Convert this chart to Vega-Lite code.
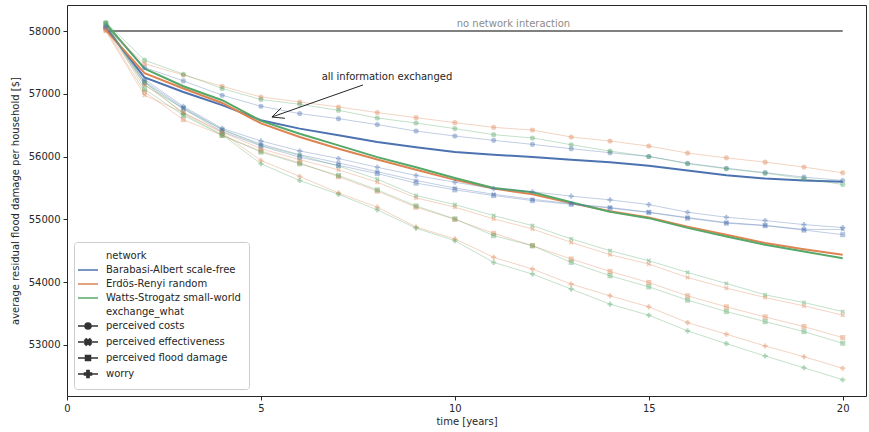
{
  "$schema": "https://vega.github.io/schema/vega-lite/v6.json",
  "width": 799,
  "height": 391,
  "autosize": {"type": "none"},
  "padding": {"left": 67, "top": 5, "right": 3, "bottom": 36},
  "background": "white",
  "config": {
    "font": "DejaVu Sans",
    "view": {"stroke": "#262626", "strokeWidth": 1},
    "axis": {"domain": false, "grid": false, "tickColor": "#262626", "tickSize": 4, "labelFontSize": 10, "labelColor": "#262626", "titleFontSize": 10, "titleFontWeight": "normal", "titleColor": "#262626", "labelFont": "DejaVu Sans", "titleFont": "DejaVu Sans", "labelPadding": 3},
    "legend": {"labelFont": "DejaVu Sans", "labelFontSize": 10, "labelColor": "#262626"}
  },
  "datasets": {
    "series": [
      {"t":1,"BA_all":58060,"ER_all":58020,"WS_all":58120,"BA_costs":58080,"ER_costs":58050,"WS_costs":58140,"BA_eff":58060,"ER_eff":58000,"WS_eff":58120,"BA_flood":58060,"ER_flood":58020,"WS_flood":58120,"BA_worry":58060,"ER_worry":58020,"WS_worry":58120},
      {"t":2,"BA_all":57260,"ER_all":57330,"WS_all":57400,"BA_costs":57420,"ER_costs":57480,"WS_costs":57537,"BA_eff":57200,"ER_eff":56978,"WS_eff":57137,"BA_flood":57180,"ER_flood":57030,"WS_flood":57073,"BA_worry":57230,"ER_worry":57150,"WS_worry":57190},
      {"t":3,"BA_all":57030,"ER_all":57085,"WS_all":57121,"BA_costs":57206,"ER_costs":57300,"WS_costs":57313,"BA_eff":56780,"ER_eff":56700,"WS_eff":56765,"BA_flood":56760,"ER_flood":56589,"WS_flood":56658,"BA_worry":56800,"ER_worry":56700,"WS_worry":56680},
      {"t":4,"BA_all":56820,"ER_all":56855,"WS_all":56898,"BA_costs":56978,"ER_costs":57121,"WS_costs":57085,"BA_eff":56430,"ER_eff":56392,"WS_eff":56430,"BA_flood":56400,"ER_flood":56339,"WS_flood":56339,"BA_worry":56450,"ER_worry":56380,"WS_worry":56350},
      {"t":5,"BA_all":56580,"ER_all":56530,"WS_all":56570,"BA_costs":56802,"ER_costs":56950,"WS_costs":56909,"BA_eff":56200,"ER_eff":56126,"WS_eff":56179,"BA_flood":56170,"ER_flood":56090,"WS_flood":56072,"BA_worry":56250,"ER_worry":55939,"WS_worry":55886},
      {"t":6,"BA_all":56446,"ER_all":56312,"WS_all":56365,"BA_costs":56685,"ER_costs":56871,"WS_costs":56834,"BA_eff":56030,"ER_eff":55950,"WS_eff":56019,"BA_flood":55990,"ER_flood":55900,"WS_flood":55886,"BA_worry":56090,"ER_worry":55684,"WS_worry":55620},
      {"t":7,"BA_all":56339,"ER_all":56126,"WS_all":56179,"BA_costs":56605,"ER_costs":56791,"WS_costs":56738,"BA_eff":55900,"ER_eff":55790,"WS_eff":55850,"BA_flood":55860,"ER_flood":55680,"WS_flood":55700,"BA_worry":55970,"ER_worry":55420,"WS_worry":55400},
      {"t":8,"BA_all":56232,"ER_all":55955,"WS_all":55992,"BA_costs":56510,"ER_costs":56701,"WS_costs":56615,"BA_eff":55760,"ER_eff":55593,"WS_eff":55640,"BA_flood":55730,"ER_flood":55450,"WS_flood":55470,"BA_worry":55830,"ER_worry":55195,"WS_worry":55152},
      {"t":9,"BA_all":56150,"ER_all":55790,"WS_all":55830,"BA_costs":56407,"ER_costs":56621,"WS_costs":56535,"BA_eff":55620,"ER_eff":55343,"WS_eff":55380,"BA_flood":55578,"ER_flood":55195,"WS_flood":55215,"BA_worry":55700,"ER_worry":54880,"WS_worry":54860},
      {"t":10,"BA_all":56072,"ER_all":55630,"WS_all":55660,"BA_costs":56328,"ER_costs":56541,"WS_costs":56446,"BA_eff":55500,"ER_eff":55195,"WS_eff":55236,"BA_flood":55471,"ER_flood":55000,"WS_flood":55008,"BA_worry":55593,"ER_worry":54689,"WS_worry":54661},
      {"t":11,"BA_all":56030,"ER_all":55490,"WS_all":55500,"BA_costs":56259,"ER_costs":56466,"WS_costs":56350,"BA_eff":55400,"ER_eff":55008,"WS_eff":55061,"BA_flood":55380,"ER_flood":54778,"WS_flood":54741,"BA_worry":55490,"ER_worry":54396,"WS_worry":54315},
      {"t":12,"BA_all":55992,"ER_all":55400,"WS_all":55433,"BA_costs":56195,"ER_costs":56423,"WS_costs":56297,"BA_eff":55320,"ER_eff":54848,"WS_eff":54901,"BA_flood":55300,"ER_flood":54581,"WS_flood":54581,"BA_worry":55440,"ER_worry":54209,"WS_worry":54129},
      {"t":13,"BA_all":55950,"ER_all":55260,"WS_all":55273,"BA_costs":56126,"ER_costs":56312,"WS_costs":56190,"BA_eff":55250,"ER_eff":54634,"WS_eff":54689,"BA_flood":55240,"ER_flood":54369,"WS_flood":54315,"BA_worry":55370,"ER_worry":53969,"WS_worry":53890},
      {"t":14,"BA_all":55912,"ER_all":55130,"WS_all":55120,"BA_costs":56062,"ER_costs":56248,"WS_costs":56088,"BA_eff":55190,"ER_eff":54438,"WS_eff":54502,"BA_flood":55181,"ER_flood":54171,"WS_flood":54102,"BA_worry":55311,"ER_worry":53783,"WS_worry":53650},
      {"t":15,"BA_all":55855,"ER_all":55030,"WS_all":55020,"BA_costs":56003,"ER_costs":56168,"WS_costs":56003,"BA_eff":55115,"ER_eff":54289,"WS_eff":54342,"BA_flood":55110,"ER_flood":53995,"WS_flood":53926,"BA_worry":55236,"ER_worry":53607,"WS_worry":53474},
      {"t":16,"BA_all":55780,"ER_all":54885,"WS_all":54865,"BA_costs":55895,"ER_costs":56056,"WS_costs":55886,"BA_eff":55030,"ER_eff":54075,"WS_eff":54155,"BA_flood":55020,"ER_flood":53783,"WS_flood":53714,"BA_worry":55114,"ER_worry":53356,"WS_worry":53224},
      {"t":17,"BA_all":55705,"ER_all":54755,"WS_all":54728,"BA_costs":55815,"ER_costs":55980,"WS_costs":55806,"BA_eff":54950,"ER_eff":53905,"WS_eff":53979,"BA_flood":54940,"ER_flood":53607,"WS_flood":53532,"BA_worry":55034,"ER_worry":53171,"WS_worry":53021},
      {"t":18,"BA_all":55650,"ER_all":54625,"WS_all":54595,"BA_costs":55745,"ER_costs":55912,"WS_costs":55737,"BA_eff":54905,"ER_eff":53756,"WS_eff":53799,"BA_flood":54900,"ER_flood":53447,"WS_flood":53372,"BA_worry":54981,"ER_worry":52984,"WS_worry":52824},
      {"t":19,"BA_all":55620,"ER_all":54525,"WS_all":54490,"BA_costs":55673,"ER_costs":55833,"WS_costs":55650,"BA_eff":54840,"ER_eff":53623,"WS_eff":53676,"BA_flood":54830,"ER_flood":53292,"WS_flood":53212,"BA_worry":54917,"ER_worry":52813,"WS_worry":52637},
      {"t":20,"BA_all":55598,"ER_all":54438,"WS_all":54380,"BA_costs":55620,"ER_costs":55743,"WS_costs":55556,"BA_eff":54840,"ER_eff":53474,"WS_eff":53532,"BA_flood":54757,"ER_flood":53117,"WS_flood":53027,"BA_worry":54870,"ER_worry":52628,"WS_worry":52446}
    ],
    "baseline": [{"t":1,"v":58000},{"t":20,"v":58000}],
    "arrow": [
      {"t":7.63,"v":57141,"t2":5.284,"v2":56631},
      {"t":5.284,"v":56631,"t2":5.619,"v2":56610},
      {"t":5.284,"v":56631,"t2":5.523,"v2":56776}
    ]
  },
  "layer": [
    {
      "data": {"name": "baseline"},
      "mark": {"type": "line", "color": "#808080", "strokeWidth": 2},
      "encoding": {
        "x": {"field": "t", "type": "quantitative", "scale": {"domain": [0, 20.6], "nice": false, "zero": false},
              "axis": {"values": [0,5,10,15,20], "title": "time [years]", "titlePadding": 3, "labelFlush": false}},
        "y": {"field": "v", "type": "quantitative", "scale": {"domain": [52187, 58415], "nice": false, "zero": false},
              "axis": {"values": [53000,54000,55000,56000,57000,58000], "format": "d", "title": "average residual flood damage per household [$]", "titlePadding": 8, "labelFlush": false}}
      }
    },
    {
      "data": {"values": [{"t": 11.51, "v": 58112, "label": "no network interaction"}]},
      "mark": {"type": "text", "color": "#8c8c8c", "fontSize": 10, "align": "center", "baseline": "middle"},
      "encoding": {
        "x": {"field": "t", "type": "quantitative"},
        "y": {"field": "v", "type": "quantitative"},
        "text": {"field": "label"}
      }
    },
    {
      "data": {"name": "series"},
      "transform": [{"fold": ["BA_all","ER_all","WS_all"], "as": ["series","v"]}],
      "mark": {"type": "line", "strokeWidth": 2},
      "encoding": {
        "x": {"field": "t", "type": "quantitative"},
        "y": {"field": "v", "type": "quantitative"},
        "color": {"field": "series", "type": "nominal", "scale": {"domain": ["BA_all","ER_all","WS_all"], "range": ["#4c72b0","#dd8452","#55a868"]}, "legend": null}
      }
    },
    {
      "data": {"name": "series"},
      "transform": [{"fold": ["BA_costs","ER_costs","WS_costs","BA_eff","ER_eff","WS_eff","BA_flood","ER_flood","WS_flood","BA_worry","ER_worry","WS_worry"], "as": ["series","v"]}],
      "mark": {"type": "line", "strokeWidth": 1, "opacity": 0.35},
      "encoding": {
        "x": {"field": "t", "type": "quantitative"},
        "y": {"field": "v", "type": "quantitative"},
        "color": {"field": "series", "type": "nominal", "scale": {"domain": ["BA_costs","ER_costs","WS_costs","BA_eff","ER_eff","WS_eff","BA_flood","ER_flood","WS_flood","BA_worry","ER_worry","WS_worry"], "range": ["#4c72b0","#dd8452","#55a868","#4c72b0","#dd8452","#55a868","#4c72b0","#dd8452","#55a868","#4c72b0","#dd8452","#55a868"]}, "legend": null}
      }
    },
    {
      "data": {"name": "series"},
      "transform": [{"fold": ["BA_costs","ER_costs","WS_costs","BA_eff","ER_eff","WS_eff","BA_flood","ER_flood","WS_flood","BA_worry","ER_worry","WS_worry"], "as": ["series","v"]}],
      "mark": {"type": "point", "filled": true, "size": 26, "opacity": 0.42},
      "encoding": {
        "x": {"field": "t", "type": "quantitative"},
        "y": {"field": "v", "type": "quantitative"},
        "color": {"field": "series", "type": "nominal", "scale": {"domain": ["BA_costs","ER_costs","WS_costs","BA_eff","ER_eff","WS_eff","BA_flood","ER_flood","WS_flood","BA_worry","ER_worry","WS_worry"], "range": ["#4c72b0","#dd8452","#55a868","#4c72b0","#dd8452","#55a868","#4c72b0","#dd8452","#55a868","#4c72b0","#dd8452","#55a868"]}, "legend": null},
        "shape": {"field": "series", "type": "nominal", "scale": {"domain": ["BA_costs","ER_costs","WS_costs","BA_eff","ER_eff","WS_eff","BA_flood","ER_flood","WS_flood","BA_worry","ER_worry","WS_worry"], "range": ["circle","circle","circle",
          "M-0.495,-0.919L0,-0.424L0.495,-0.919L0.919,-0.495L0.424,0L0.919,0.495L0.495,0.919L0,0.424L-0.495,0.919L-0.919,0.495L-0.424,0L-0.919,-0.495Z",
          "M-0.495,-0.919L0,-0.424L0.495,-0.919L0.919,-0.495L0.424,0L0.919,0.495L0.495,0.919L0,0.424L-0.495,0.919L-0.919,0.495L-0.424,0L-0.919,-0.495Z",
          "M-0.495,-0.919L0,-0.424L0.495,-0.919L0.919,-0.495L0.424,0L0.919,0.495L0.495,0.919L0,0.424L-0.495,0.919L-0.919,0.495L-0.424,0L-0.919,-0.495Z",
          "square","square","square","cross","cross","cross"]}, "legend": null}
      }
    },
    {
      "data": {"name": "arrow"},
      "mark": {"type": "rule", "color": "#262626", "strokeWidth": 1},
      "encoding": {
        "x": {"field": "t", "type": "quantitative"},
        "y": {"field": "v", "type": "quantitative"},
        "x2": {"field": "t2"},
        "y2": {"field": "v2"}
      }
    },
    {
      "data": {"values": [{"t": 8.25, "v": 57262, "label": "all information exchanged"}]},
      "mark": {"type": "text", "color": "#262626", "fontSize": 10, "align": "center", "baseline": "middle"},
      "encoding": {
        "x": {"field": "t", "type": "quantitative"},
        "y": {"field": "v", "type": "quantitative"},
        "text": {"field": "label"}
      }
    },
    {
      "data": {"values": []},
      "mark": {"type": "point", "filled": true, "opacity": 1},
      "encoding": {
        "fill": {"field": "entry", "type": "nominal",
          "scale": {"domain": ["network","Barabasi-Albert scale-free","Erdös-Renyi random","Watts-Strogatz small-world","exchange_what","perceived costs","perceived effectiveness","perceived flood damage","worry"],
                    "range": ["transparent","#4c72b0","#dd8452","#55a868","transparent","#333333","#333333","#333333","#333333"]},
          "legend": {"title": null, "orient": "bottom-left", "offset": 7, "strokeColor": "#cccccc", "fillColor": "rgba(255,255,255,0.85)", "cornerRadius": 3, "padding": 8, "rowPadding": 3, "symbolSize": 100, "symbolStrokeWidth": 1.5, "symbolOpacity": 1, "labelOffset": 12, "labelLimit": 300}},
        "stroke": {"field": "entry", "type": "nominal",
          "scale": {"domain": ["network","Barabasi-Albert scale-free","Erdös-Renyi random","Watts-Strogatz small-world","exchange_what","perceived costs","perceived effectiveness","perceived flood damage","worry"],
                    "range": ["transparent","#4c72b0","#dd8452","#55a868","transparent","#333333","#333333","#333333","#333333"]},
          "legend": {"title": null, "orient": "bottom-left"}},
        "shape": {"field": "entry", "type": "nominal",
          "scale": {"domain": ["network","Barabasi-Albert scale-free","Erdös-Renyi random","Watts-Strogatz small-world","exchange_what","perceived costs","perceived effectiveness","perceived flood damage","worry"],
                    "range": ["M-2,0H2","M-2,0H2","M-2,0H2","M-2,0H2","M-2,0H2",
                              "M-2,0H2M0.6,0A0.6,0.6,0,1,1,-0.6,0A0.6,0.6,0,1,1,0.6,0Z",
                              "M-2,0H2M-0.347,-0.643L0,-0.297L0.347,-0.643L0.643,-0.347L0.297,0L0.643,0.347L0.347,0.643L0,0.297L-0.347,0.643L-0.643,0.347L-0.297,0L-0.643,-0.347Z",
                              "M-2,0H2M-0.5,-0.5H0.5V0.5H-0.5Z",
                              "M-2,0H2M-0.7,-0.22H-0.22V-0.7H0.22V-0.22H0.7V0.22H0.22V0.7H-0.22V0.22H-0.7Z"]},
          "legend": {"title": null, "orient": "bottom-left"}}
      }
    }
  ],
  "resolve": {"scale": {"color": "independent", "shape": "independent", "fill": "independent", "stroke": "independent"}}
}
